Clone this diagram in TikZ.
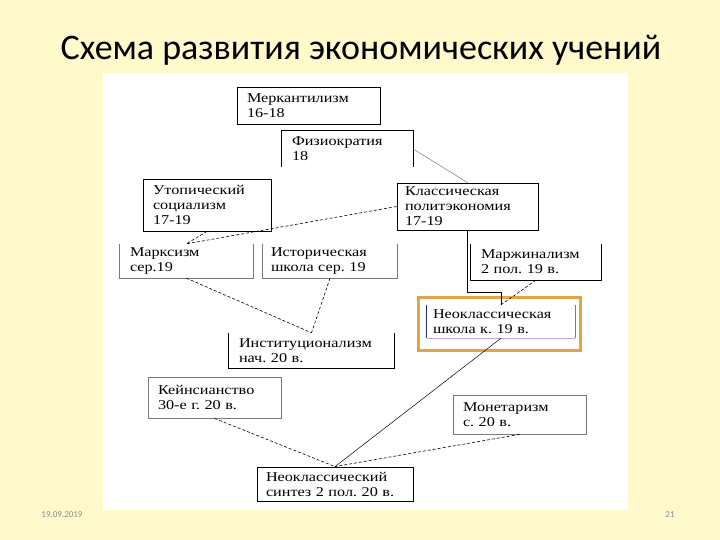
\documentclass[tikz,border=0pt]{standalone}
\usepackage{fontspec}
\setmainfont{Liberation Serif}[FakeStretch=1.2]
\newfontfamily\titlefont{Carlito}
\frenchspacing
\definecolor{slidebg}{HTML}{FFF9CC}
\definecolor{framegold}{HTML}{E2A446}
\definecolor{edgegray}{HTML}{7A7A7A}
\definecolor{inkblue}{HTML}{2B2F5A}
\definecolor{lilac}{HTML}{B9A9D9}
\definecolor{footgray}{HTML}{8C8C8C}

\begin{document}
\begin{tikzpicture}[
  x=1pt, y=-1pt,
  stage/.style={font=\fontsize{13.5}{15}\selectfont, align=left, inner xsep=10pt, inner ysep=2pt},
  boxed/.style={stage, draw, line width=0.8pt},
  grayboxed/.style={stage, draw=edgegray, line width=0.8pt},
  side/.style={line width=0.8pt},
  link/.style={line width=0.6pt, dash pattern=on 3pt off 2pt},
  solidlink/.style={line width=0.5pt}
]
% slide and white panel
\fill[slidebg] (0,0) rectangle (720,540);
\useasboundingbox (0,0) rectangle (720,540);
\fill[white] (103,73) rectangle (628,510);

\node[anchor=base, font=\titlefont\fontsize{36}{40}\selectfont] (title) at (361,60) {Схема развития экономических учений};
\node[font=\titlefont\fontsize{9}{11}\selectfont, text=footgray] (date) at (62,515) {19.09.2019};
\node[font=\titlefont\fontsize{9}{11}\selectfont, text=footgray] (page) at (670,515) {21};

% boxes
\node[boxed, text width=123pt, minimum height=37pt] (merc) at (308.5,105.5) {Меркантилизм\\16-18};
\node[stage, text width=111pt, minimum height=36pt] (fizio) at (347.5,149) {Физиократия\\18};
\node[boxed, text width=108pt, minimum height=52pt] (utop) at (207,205) {Утопический\\социализм\\17-19};
\node[boxed, inner xsep=8pt, text width=125pt, minimum height=47pt] (klass) at (467.5,206.5) {Классическая\\политэкономия\\17-19};
\node[stage, text width=113pt, minimum height=34pt] (marx) at (186.5,261) {Марксизм\\сер.19};
\node[stage, inner xsep=8pt, text width=118pt, minimum height=34pt] (hist) at (330,261) {Историческая\\школа сер. 19};
\node[stage, text width=110pt, minimum height=36pt] (marg) at (536,262) {Маржинализм\\2 пол. 19 в.};
\node[stage, inner xsep=6pt, text width=136pt, minimum height=33pt] (neo) at (501,321.5) {Неоклассическая\\школа к. 19 в.};
\node[stage, text width=145pt, minimum height=35pt] (inst) at (311.5,350.5) {Институционализм\\нач. 20 в.};
\node[grayboxed, text width=113pt, minimum height=41pt] (keyn) at (214.5,397.5) {Кейнсианство\\30-е г. 20 в.};
\node[grayboxed, text width=113pt, minimum height=39pt] (mon) at (519.5,414.5) {Монетаризм\\с. 20 в.};
\node[boxed, inner xsep=9pt, text width=138pt, minimum height=34pt] (syn) at (335,484) {Неоклассический\\синтез 2 пол. 20 в.};

% open sides
\draw[side] (fizio.south west) |- (fizio.north east) -- (fizio.south east);
\draw[side, edgegray] (marx.north west) |- (marx.south east) -- (marx.north east);
\draw[side, edgegray] (hist.north west) |- (hist.south east) -- (hist.north east);
\draw[side] (marg.north west) |- (marg.south east) -- (marg.north east);
\draw[side] (inst.north west) |- (inst.south east) -- (inst.north east);
\draw[side, inkblue] (neo.north west) -- (neo.south west);
\draw[side, edgegray] (neo.north east) -- (neo.south east);
\draw[side, lilac] (neo.south west) -- (neo.south east);
\draw[framegold, line width=3pt] ([shift={(-8,-7)}]neo.north west) rectangle ([shift={(5,12)}]neo.south east);

% connectors
\coordinate (bend) at (501,292);
\draw[solidlink, edgegray] (fizio.east) -- (klass.north);
\draw[link] (klass.west) -- (marx.north);
\draw[link] (utop.south) -- (marx.north);
\draw[side] (klass.south) |- (bend) -- (neo.north);
\draw[link] (marg.south) -- (neo.north);
\draw[link] (marx.south) -- (inst.north);
\draw[link] (hist.south) -- (inst.north);
\draw[solidlink] (neo.south) -- (syn.north);
\draw[link] (keyn.south) -- (syn.north);
\draw[link] (mon.south) -- (syn.north);
\end{tikzpicture}
\end{document}
